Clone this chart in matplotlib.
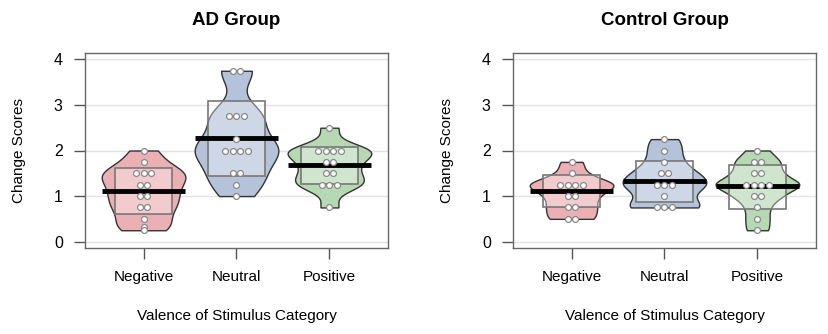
import numpy as np
import matplotlib
matplotlib.use('Agg')
from matplotlib import pyplot as plt
from matplotlib.patches import Rectangle

plt.rcParams['font.family'] = ['Liberation Sans', 'DejaVu Sans']

categories = ['Negative', 'Neutral', 'Positive']
groups = ['AD Group', 'Control Group']

# change scores, one list per bean
ad_negative = [2.0, 1.75, 1.5, 1.5, 1.5, 1.25, 1.25, 1.0, 1.0, 0.75, 0.75, 0.5, 0.33, 0.25]
ad_neutral = [3.75, 3.75, 2.75, 2.75, 2.75, 2.25, 2.0, 2.0, 2.0, 2.0, 1.5, 1.5, 1.25, 1.0]
ad_positive = [2.5, 2.0, 2.0, 2.0, 2.0, 1.75, 1.75, 1.5, 1.5, 1.25, 1.25, 1.25, 0.75]
ctl_negative = [1.75, 1.5, 1.25, 1.25, 1.25, 1.25, 1.0, 1.0, 0.75, 0.75, 0.5, 0.5]
ctl_neutral = [2.25, 2.0, 1.75, 1.5, 1.5, 1.25, 1.25, 1.25, 1.0, 0.75, 0.75, 0.75]
ctl_positive = [2.0, 1.75, 1.75, 1.5, 1.5, 1.25, 1.25, 1.25, 1.25, 1.0, 1.0, 0.75, 0.5, 0.25]

# inference band (box) limits
ad_band_low = [0.61, 1.44, 1.27]
ad_band_high = [1.61, 3.09, 2.08]
ctl_band_low = [0.76, 0.87, 0.71]
ctl_band_high = [1.46, 1.77, 1.69]

# mean lines as drawn
ad_means = [1.12, 2.27, 1.68]
ctl_means = [1.12, 1.33, 1.21]

bean_colors = ['#ebb0b4', '#b4c3da', '#b6d8b3']

panels = [
    ([ad_negative, ad_neutral, ad_positive], ad_band_low, ad_band_high, ad_means),
    ([ctl_negative, ctl_neutral, ctl_positive], ctl_band_low, ctl_band_high, ctl_means),
]


def bean(vals, bw_adj=0.7):
    v = np.asarray(vals, dtype=float)
    n = len(v)
    iqr = np.subtract(*np.percentile(v, [75, 25]))
    bw = 0.9 * min(v.std(ddof=1), iqr / 1.34) * n ** -0.2 * bw_adj
    ys = np.linspace(v.min(), v.max(), 200)
    dens = np.exp(-0.5 * ((ys[:, None] - v[None, :]) / bw) ** 2).sum(axis=1)
    return ys, dens / dens.max()


fig = plt.figure(figsize=(8.29, 3.34), dpi=100)
lefts = [85 / 829, 513 / 829]
w = 303 / 829
for (data, lo, hi, means), title, left in zip(panels, groups, lefts):
    ax = fig.add_axes([left, (334 - 248) / 334, w, 195 / 334])
    for yg in range(5):
        ax.axhline(yg, color='#e3e3e3', lw=1, zorder=0)
    for i, vals in enumerate(data):
        xc = i + 1
        ys, d = bean(vals)
        half = 0.45 * d
        ax.fill_betweenx(ys, xc - half, xc + half, facecolor=bean_colors[i],
                         edgecolor='#333333', lw=1, zorder=2)
        ax.add_patch(Rectangle((xc - 0.31, lo[i]), 0.62, hi[i] - lo[i],
                               facecolor='white', alpha=0.35, edgecolor='none', zorder=3))
        ax.add_patch(Rectangle((xc - 0.31, lo[i]), 0.62, hi[i] - lo[i],
                               facecolor='none', edgecolor='#777777', lw=1.2, zorder=3))
        ax.plot([xc - 0.45, xc + 0.45], [means[i], means[i]], color='black', lw=3.5,
                solid_capstyle='butt', zorder=4)
        # spread equal values side by side
        v = np.asarray(vals)
        xs = np.empty(len(v))
        for u in np.unique(v):
            idx = np.where(v == u)[0]
            k = len(idx)
            xs[idx] = xc + (np.arange(k) - (k - 1) / 2) * 0.08
        ax.scatter(xs, v, s=18, facecolor='white', edgecolor='#888888', lw=0.9, zorder=5)
    ax.set_xlim(0.37, 3.63)
    ax.set_ylim(-0.14, 4.14)
    ax.set_xticks([1, 2, 3])
    ax.set_xticklabels(categories, fontsize=11)
    ax.set_yticks([0, 1, 2, 3, 4])
    ax.tick_params(axis='both', length=8, width=1, color='#555555', pad=8, labelsize=11.5)
    ax.tick_params(axis='x', labelsize=11)
    for s in ax.spines.values():
        s.set_color('#666666')
        s.set_linewidth(1)
    ax.set_title(title, fontsize=13.5, fontweight='bold', pad=20)
    ax.set_xlabel('Valence of Stimulus Category', fontsize=11, labelpad=18)
    ax.set_ylabel('Change Scores', fontsize=11, labelpad=20)

plt.savefig('out.png', dpi=100)
plt.close()
